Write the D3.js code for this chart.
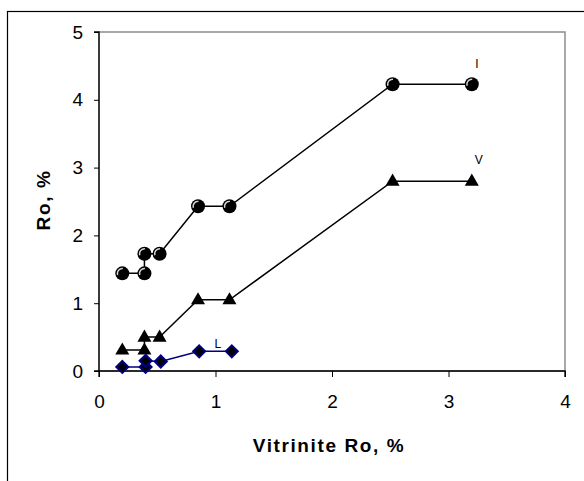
<!DOCTYPE html>
<html>
<head>
<meta charset="utf-8">
<script src="https://cdn.jsdelivr.net/npm/d3@7"></script>
<style>
    body { margin: 0; background: #fff; }
    text { font-family: "Liberation Sans", Arial, sans-serif; fill: #000; }
</style>
</head>
<body>
<div id="chart"></div>
<script>
// data
const xI = [0.2, 0.39, 0.39, 0.52, 0.85, 1.12, 2.52, 3.2];
const yI = [1.44, 1.44, 1.73, 1.73, 2.43, 2.43, 4.23, 4.23];
const xV = [0.2, 0.39, 0.39, 0.52, 0.85, 1.12, 2.52, 3.2];
const yV = [0.31, 0.31, 0.50, 0.50, 1.05, 1.05, 2.80, 2.80];
const xL = [0.2, 0.4, 0.4, 0.53, 0.86, 1.14];
const yL = [0.06, 0.06, 0.15, 0.14, 0.29, 0.29];
const xTicks = [0, 1, 2, 3, 4];
const yTicks = [0, 1, 2, 3, 4, 5];

let width = 584;
let height = 481;
let margin = {
    top: 32,
    bottom: 110,
    left: 99,
    right: 19
};
let chartWidth = width - margin.left - margin.right;
let chartHeight = height - margin.top - margin.bottom;

const zip = (xs, ys) => xs.map((x, i) => ({x: x, y: ys[i]}));

let svg = d3.select('#chart')
    .append('svg')
    .attr('width', width)
    .attr('height', height);

// outer frame, right and bottom edges fall outside the picture
svg.append('rect')
    .attr('x', 7.5)
    .attr('y', 11.5)
    .attr('width', width + 10)
    .attr('height', height + 10)
    .attr('fill', '#fff')
    .attr('stroke', '#000')
    .attr('stroke-width', 1.2);

let g = svg.append('g')
    .attr('transform', `translate(${margin.left},${margin.top})`);

let xScale = d3.scaleLinear()
    .domain([0, 4])
    .range([0, chartWidth]);

let yScale = d3.scaleLinear()
    .domain([0, 5])
    .range([chartHeight, 0]);

// plot area border (grey)
g.append('rect')
    .attr('x', 0)
    .attr('y', 0)
    .attr('width', chartWidth)
    .attr('height', chartHeight)
    .attr('fill', 'none')
    .attr('stroke', '#8c8c8c')
    .attr('stroke-width', 1.5);

// axes
let xAxis = d3.axisBottom(xScale)
    .tickValues(xTicks)
    .tickSize(6)
    .tickPadding(18)
    .tickFormat(d3.format('d'));

let yAxis = d3.axisLeft(yScale)
    .tickValues(yTicks)
    .tickSize(5)
    .tickPadding(11)
    .tickFormat(d3.format('d'));

let xg = g.append('g')
    .attr('transform', `translate(0,${chartHeight})`)
    .call(xAxis);
let yg = g.append('g')
    .call(yAxis);

[xg, yg].forEach(a => {
    a.select('.domain').attr('stroke', '#000').attr('stroke-width', 1.3);
    a.selectAll('.tick line').attr('stroke', '#000');
    a.selectAll('.tick text')
        .attr('font-size', 19)
        .attr('font-family', '"Liberation Sans", Arial, sans-serif');
});
xg.select('.domain').attr('d', `M0,6V0H${chartWidth}V6`);
yg.select('.domain').attr('d', `M-5,0H0V${chartHeight}H-5`);

// axis titles
svg.append('text')
    .attr('x', margin.left + xScale(2) - 3)
    .attr('y', 452)
    .attr('text-anchor', 'middle')
    .attr('font-size', 19)
    .attr('font-weight', 'bold')
    .attr('letter-spacing', 1.6)
    .text('Vitrinite Ro, %');

svg.append('text')
    .attr('transform', `translate(50,200) rotate(-90)`)
    .attr('text-anchor', 'middle')
    .attr('font-size', 19)
    .attr('font-weight', 'bold')
    .attr('letter-spacing', 1.6)
    .text('Ro, %');

// lines
let line = d3.line()
    .x(d => xScale(d.x))
    .y(d => yScale(d.y));

let seriesI = zip(xI, yI);
let seriesV = zip(xV, yV);
let seriesL = zip(xL, yL);

g.append('path').datum(seriesI)
    .attr('d', line).attr('fill', 'none')
    .attr('stroke', '#000').attr('stroke-width', 1.5);
g.append('path').datum(seriesV)
    .attr('d', line).attr('fill', 'none')
    .attr('stroke', '#000').attr('stroke-width', 1.5);
g.append('path').datum(seriesL)
    .attr('d', line).attr('fill', 'none')
    .attr('stroke', '#000080').attr('stroke-width', 1.5);

// markers: I = shaded balls
let balls = g.selectAll('.ball')
    .data(seriesI)
    .enter()
    .append('g')
    .attr('class', 'ball')
    .attr('transform', d => `translate(${xScale(d.x)},${yScale(d.y)})`);
balls.append('circle')
    .attr('r', 7)
    .attr('fill', '#000');
balls.append('path')
    .attr('d', d3.arc()({innerRadius: 4.2, outerRadius: 5.6, startAngle: -1.9, endAngle: 0.1}))
    .attr('fill', '#d8d8d8');

// V = triangles
g.selectAll('.tri')
    .data(seriesV)
    .enter()
    .append('path')
    .attr('class', 'tri')
    .attr('d', d3.symbol().type(d3.symbolTriangle).size(85))
    .attr('transform', d => `translate(${xScale(d.x)},${yScale(d.y) + 0.5})`)
    .attr('fill', '#000');

// L = diamonds
g.selectAll('.dia')
    .data(seriesL)
    .enter()
    .append('path')
    .attr('class', 'dia')
    .attr('d', 'M0,-6L6,0L0,6L-6,0Z')
    .attr('transform', d => `translate(${xScale(d.x)},${yScale(d.y)})`)
    .attr('fill', '#000')
    .attr('stroke', '#000080')
    .attr('stroke-width', 2);

// series labels
const labels = [
    {name: 'I', x: 3.245, y: 4.47},
    {name: 'V', x: 3.26, y: 3.05},
    {name: 'L', x: 1.02, y: 0.34}
];
g.selectAll('.lbl')
    .data(labels)
    .enter()
    .append('text')
    .attr('class', 'lbl')
    .attr('x', d => xScale(d.x))
    .attr('y', d => yScale(d.y))
    .attr('text-anchor', 'middle')
    .attr('font-size', 12)
    .attr('fill', '#222')
    .text(d => d.name);
</script>
</body>
</html>
